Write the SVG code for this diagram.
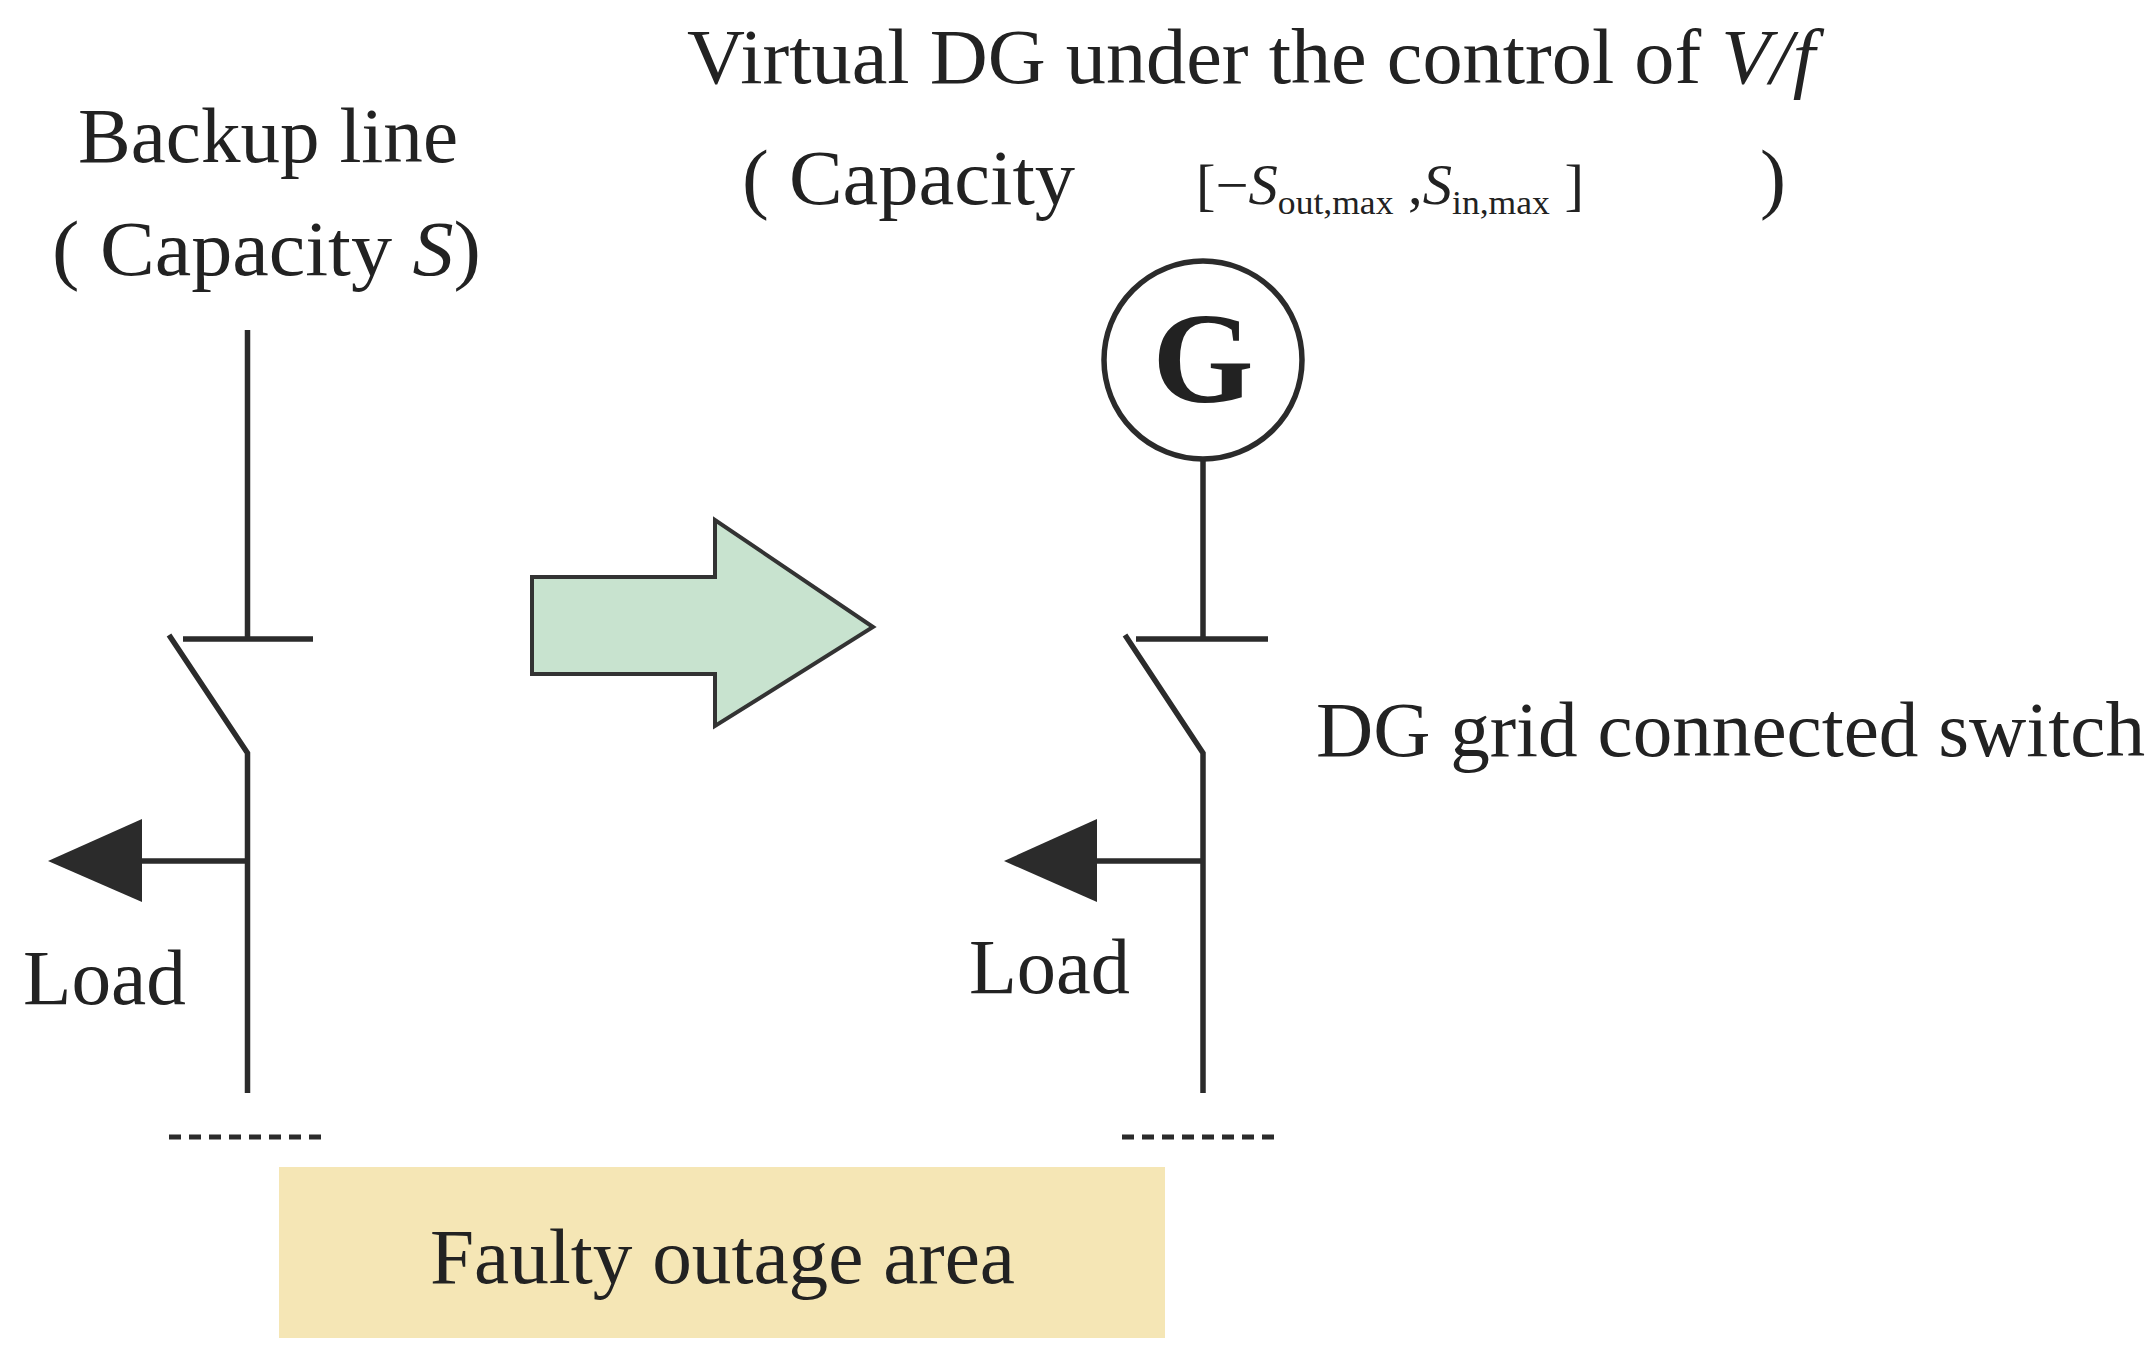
<svg xmlns="http://www.w3.org/2000/svg" width="2156" height="1367" viewBox="0 0 2156 1367">
<style>
text{font-family:"Liberation Serif","Times New Roman",serif;fill:#222;font-size:78px}
.sm{font-size:56px}
.sub{font-size:34px}
.g{font-size:130px;font-weight:bold}
.ln{stroke:#2b2b2b;stroke-width:5.5;fill:none}
.dash{stroke:#2b2b2b;stroke-width:5;stroke-dasharray:12 8;fill:none}
.tri{fill:#2b2b2b}
</style>
<rect width="2156" height="1367" fill="#fff"/>
<g id="backup-label">
<text x="78" y="162" textLength="380" lengthAdjust="spacingAndGlyphs">Backup line</text>
<text x="52" y="275" textLength="429" lengthAdjust="spacingAndGlyphs">( Capacity <tspan font-style="italic">S</tspan>)</text>
</g>
<g id="vdg-label">
<text x="687" y="83" textLength="1128" lengthAdjust="spacingAndGlyphs">Virtual DG under the control of <tspan font-style="italic">V/f</tspan></text>
<text x="742" y="204" textLength="333" lengthAdjust="spacingAndGlyphs">( Capacity</text>
<text class="sm" x="1196" y="204" textLength="388" lengthAdjust="spacingAndGlyphs">[−<tspan font-style="italic">S</tspan><tspan class="sub" dy="10">out,max</tspan><tspan dy="-10"> ,</tspan><tspan font-style="italic">S</tspan><tspan class="sub" dy="10">in,max</tspan><tspan dy="-10"> ]</tspan></text>
<text x="1760" y="204">)</text>
</g>
<g id="left-feeder">
<path class="ln" d="M247.5 330V639M183 639H313M169 635L247.5 753V1093M247.5 861H130"/>
<polygon class="tri" points="48,861 142,819 142,902"/>
<path class="dash" d="M169 1137H324"/>
<text x="23" y="1004" textLength="163" lengthAdjust="spacingAndGlyphs">Load</text>
</g>
<g id="transition-arrow">
<polygon points="532,577 715,577 715,520 873,627 715,726 715,674 532,674" fill="#c8e3cf" stroke="#333" stroke-width="4"/>
</g>
<g id="generator">
<circle cx="1203" cy="360" r="99" fill="#fff" stroke="#2b2b2b" stroke-width="5.5"/>
<text class="g" x="1203" y="402" text-anchor="middle">G</text>
</g>
<g id="right-feeder">
<path class="ln" d="M1203 459V639M1136 639H1268M1125 635L1203 753V1093M1203 861H1085"/>
<polygon class="tri" points="1004,861 1097,819 1097,902"/>
<path class="dash" d="M1122 1137H1276"/>
<text x="969" y="993" textLength="161" lengthAdjust="spacingAndGlyphs">Load</text>
<text x="1316" y="756" textLength="829" lengthAdjust="spacingAndGlyphs">DG grid connected switch</text>
</g>
<g id="outage-area">
<rect x="279" y="1167" width="886" height="171" fill="#f5e6b5"/>
<text x="430" y="1283" textLength="585" lengthAdjust="spacingAndGlyphs">Faulty outage area</text>
</g>
</svg>
